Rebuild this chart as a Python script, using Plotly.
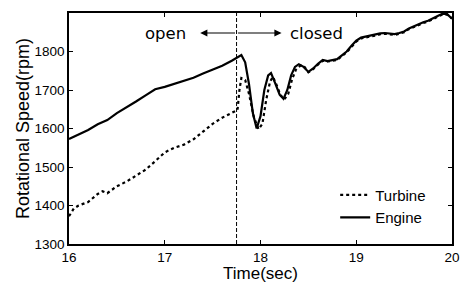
import plotly.graph_objects as go

# ---- data ----
engine_t = [16.0, 16.1, 16.2, 16.3, 16.4, 16.5, 16.6, 16.7, 16.8, 16.9, 17.0, 17.1, 17.2, 17.3,
            17.4, 17.5, 17.6, 17.7, 17.75, 17.8, 17.84, 17.88, 17.92, 17.96, 18.0, 18.04, 18.08,
            18.11, 18.15, 18.2, 18.24, 18.28, 18.32, 18.36, 18.4, 18.45, 18.5, 18.55, 18.6, 18.65,
            18.7, 18.75, 18.8, 18.85, 18.9, 18.95, 19.0, 19.05, 19.1, 19.15, 19.2, 19.25, 19.3,
            19.35, 19.4, 19.45, 19.5, 19.55, 19.6, 19.65, 19.7, 19.75, 19.8, 19.85, 19.9, 19.95, 20.0]
engine_rpm = [1573, 1584, 1596, 1611, 1622, 1640, 1654, 1670, 1686, 1702, 1708, 1716, 1722, 1732,
              1743, 1752, 1763, 1776, 1784, 1791, 1772, 1715, 1640, 1600, 1632, 1700, 1738,
              1744, 1720, 1688, 1677, 1700, 1738, 1760, 1767, 1760, 1747, 1756, 1768, 1778,
              1775, 1778, 1780, 1790, 1800, 1815, 1828, 1836, 1839, 1841, 1843, 1847, 1848,
              1846, 1845, 1848, 1852, 1860, 1866, 1872, 1876, 1880, 1885, 1892, 1898, 1897, 1885]

turbine_t = [16.0, 16.05, 16.1, 16.2, 16.3, 16.35, 16.4, 16.5, 16.6, 16.7, 16.8, 16.9, 17.0, 17.1,
             17.2, 17.3, 17.4, 17.5, 17.6, 17.7, 17.76, 17.78, 17.8, 17.84, 17.88, 17.93, 17.98,
             18.02, 18.06, 18.1, 18.13, 18.17, 18.21, 18.25, 18.29, 18.33, 18.37, 18.42, 18.46,
             18.5, 18.55, 18.6, 18.65, 18.7, 18.75, 18.8, 18.85, 18.9, 18.95, 19.0, 19.05, 19.1,
             19.15, 19.2, 19.25, 19.3, 19.35, 19.4, 19.45, 19.5, 19.55, 19.6, 19.65, 19.7, 19.75,
             19.8, 19.85, 19.9, 19.95, 20.0]
turbine_rpm = [1372, 1392, 1400, 1409, 1430, 1437, 1432, 1450, 1462, 1478, 1493, 1515, 1538, 1550,
               1558, 1572, 1592, 1612, 1628, 1640, 1648, 1700, 1731, 1726, 1690, 1630, 1598,
               1612, 1675, 1722, 1734, 1712, 1686, 1676, 1690, 1728, 1753, 1764, 1760,
               1746, 1754, 1766, 1776, 1774, 1776, 1778, 1788, 1798, 1812, 1826, 1834, 1837,
               1839, 1841, 1845, 1846, 1844, 1843, 1846, 1850, 1858, 1864, 1870, 1874, 1878,
               1883, 1890, 1896, 1896, 1886]

valve_switch_t = 17.75
arrow_y = 1848
open_tip_t = 17.37
closed_tip_t = 18.22
open_label_t = 17.01
closed_label_t = 18.58

x_ticks = [16, 17, 18, 19, 20]
y_ticks = [1300, 1400, 1500, 1600, 1700, 1800, 1900]

fig = go.Figure()
fig.add_trace(go.Scatter(x=turbine_t, y=turbine_rpm, mode="lines", name="Turbine",
                         line=dict(color="black", width=2.2, dash="dot")))
fig.add_trace(go.Scatter(x=engine_t, y=engine_rpm, mode="lines", name="Engine",
                         line=dict(color="black", width=2.2)))

fig.add_shape(type="line", xref="x", yref="paper", x0=valve_switch_t, x1=valve_switch_t,
              y0=0, y1=1, line=dict(color="black", width=1, dash="4px,2px"))

for tip in (open_tip_t, closed_tip_t):
    fig.add_annotation(x=tip, y=arrow_y, ax=valve_switch_t, ay=arrow_y, xref="x", yref="y",
                       axref="x", ayref="y", showarrow=True, arrowhead=2, arrowsize=1.2,
                       arrowwidth=1.2, arrowcolor="black", text="")
fig.add_annotation(x=open_label_t, y=arrow_y, text="open", showarrow=False,
                   font=dict(family="DejaVu Sans", size=16.5, color="black"))
fig.add_annotation(x=closed_label_t, y=arrow_y, text="closed", showarrow=False,
                   font=dict(family="DejaVu Sans", size=16.5, color="black"))

axis_common = dict(showline=True, linecolor="black", linewidth=1.5, mirror="ticks",
                   ticks="inside", ticklen=4, tickcolor="black", showgrid=False, zeroline=False,
                   tickfont=dict(family="Liberation Sans", size=13.5, color="black"))
fig.update_xaxes(range=[16, 20], tickvals=x_ticks,
                 title=dict(text="Time(sec)", standoff=2,
                            font=dict(family="Liberation Sans", size=17, color="black")),
                 **axis_common)
fig.update_yaxes(range=[1300, 1900], tickvals=y_ticks,
                 title=dict(text="Rotational Speed(rpm)", standoff=0,
                            font=dict(family="Liberation Sans", size=18, color="black")),
                 **axis_common)

# page body has an 8px default margin, so the figure is drawn 8px smaller
fig.update_layout(width=462, height=275, margin=dict(l=61, r=18, t=5, b=39, autoexpand=False),
                  plot_bgcolor="white", paper_bgcolor="white", showlegend=True,
                  legend=dict(x=0.695, y=0.283, xanchor="left", yanchor="top",
                              bgcolor="rgba(0,0,0,0)",
                              font=dict(family="Liberation Sans", size=15, color="black"),
                              tracegroupgap=0))

fig.write_html("out.html")
